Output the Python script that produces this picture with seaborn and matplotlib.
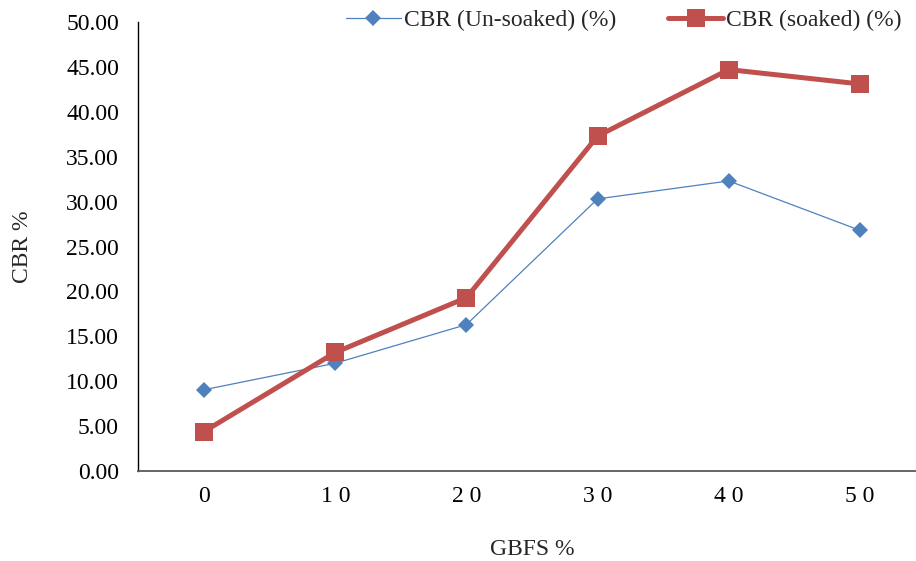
import pandas as pd
import matplotlib
matplotlib.use("Agg")
import matplotlib.pyplot as plt
import seaborn as sns

gbfs = [0, 10, 20, 30, 40, 50]
gbfs_labels = ["0", "1 0", "2 0", "3 0", "4 0", "5 0"]
cbr_unsoaked = [9.05, 12.0, 16.3, 30.3, 32.3, 26.8]
cbr_soaked = [4.4, 13.2, 19.3, 37.3, 44.7, 43.1]
yticks = [0, 5, 10, 15, 20, 25, 30, 35, 40, 45, 50]

df = pd.DataFrame({"GBFS": gbfs, "unsoaked": cbr_unsoaked, "soaked": cbr_soaked})

sns.set_style("white")
plt.rcParams["font.family"] = ["Liberation Serif", "DejaVu Serif"]

fig = plt.figure(figsize=(9.16, 5.61), dpi=100)
ax = fig.add_axes([0.1512, 0.1604, 0.8592, 0.8004])

sns.lineplot(data=df, x="GBFS", y="unsoaked", ax=ax, color="#4F81BD", lw=0.9,
             marker="D", ms=7.8, mew=0, label="CBR (Un-soaked) (%)")
sns.lineplot(data=df, x="GBFS", y="soaked", ax=ax, color="#C0504D", lw=3.6,
             marker="s", ms=12.5, mew=0, label="CBR (soaked) (%)")

fs = 17
ax.set_xlim(-5, 55)
ax.set_ylim(0, 50)
ax.set_xticks(gbfs)
ax.set_xticklabels(gbfs_labels)
ax.set_yticks(yticks)
ax.set_yticklabels([f"{v:.2f}" for v in yticks])
ax.tick_params(axis="both", length=0, labelsize=fs, colors="black")
ax.tick_params(axis="y", pad=14)
ax.tick_params(axis="x", pad=11)

ax.set_xlabel("GBFS %", fontsize=fs, labelpad=23)
ax.set_ylabel("CBR %", fontsize=fs, labelpad=24)

for s in ["top", "right"]:
    ax.spines[s].set_visible(False)
ax.spines["left"].set_color("black")
ax.spines["left"].set_linewidth(1.0)
ax.spines["bottom"].set_color("#595959")
ax.spines["bottom"].set_linewidth(1.3)

ax.legend(loc="center", bbox_to_anchor=(624 / 916, 1 - 20 / 561),
          bbox_transform=fig.transFigure, ncol=2, frameon=False,
          fontsize=fs, handlelength=2.3, handletextpad=0.15,
          columnspacing=2.2)

fig.savefig("out.png", dpi=100)
